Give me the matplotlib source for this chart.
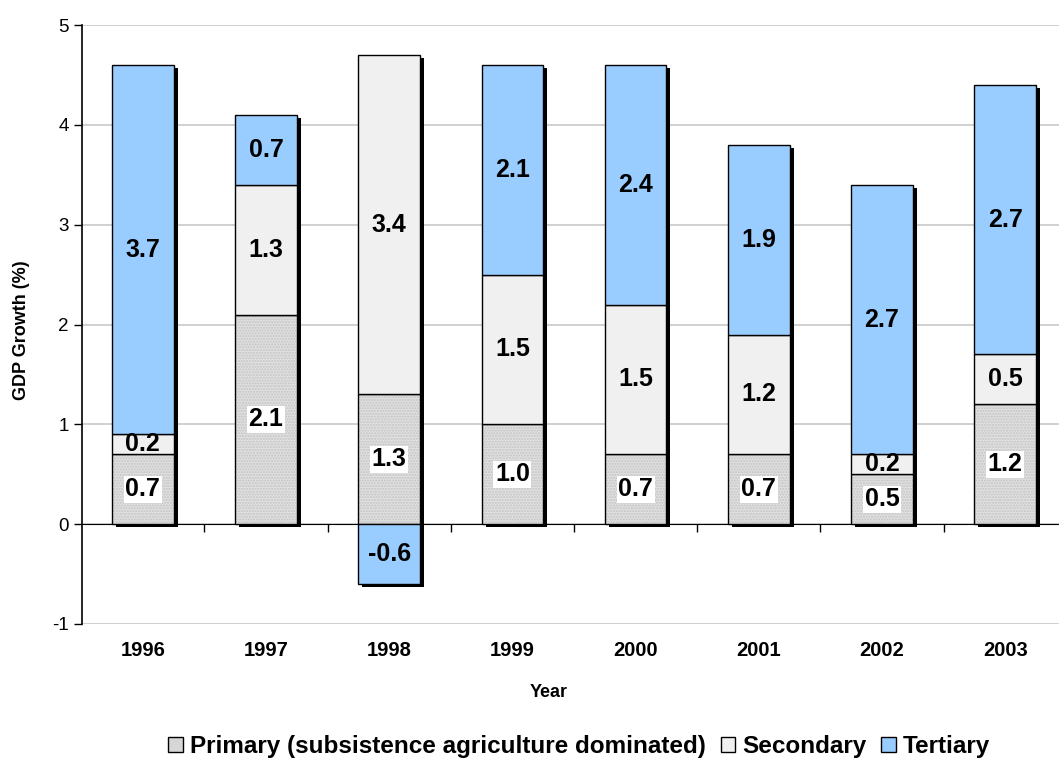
import numpy as np
import matplotlib.pyplot as plt
from matplotlib.patches import Patch
import matplotlib.transforms as mtransforms

plt.rcParams['font.family'] = ['Liberation Sans', 'DejaVu Sans']

years = ['1996', '1997', '1998', '1999', '2000', '2001', '2002', '2003']
primary = [0.7, 2.1, 1.3, 1.0, 0.7, 0.7, 0.5, 1.2]
secondary = [0.2, 1.3, 3.4, 1.5, 1.5, 1.2, 0.2, 0.5]
tertiary = [3.7, 0.7, -0.6, 2.1, 2.4, 1.9, 2.7, 2.7]

c_prim = '#e0e0e0'
c_sec = '#f0f0f0'
c_ter = '#99ccff'

fig = plt.figure(figsize=(10.59, 7.6), dpi=100)
ax = fig.add_axes([0.0774, 0.179, 0.93, 0.788])

x = np.arange(len(years))
w = 0.5
P = np.array(primary)
S = np.array(secondary)
T = np.array(tertiary)

# tertiary sits on top of the stack, or below zero when negative
t_bot = np.where(T >= 0, P + S, 0)
top = np.maximum(P + S, P + S + np.where(T > 0, T, 0))
low = np.minimum(0, np.where(T < 0, T, 0))

# shadow
shadow = mtransforms.offset_copy(ax.transData, fig=fig, x=4, y=-3, units='dots')
ax.bar(x, top - low, w, bottom=low, color='black', transform=shadow, zorder=2)

ax.bar(x, P, w, color=c_prim, edgecolor='#c4c4c4', hatch='......', linewidth=0, zorder=3)
ax.bar(x, P, w, fill=False, edgecolor='black', linewidth=1, zorder=4)
ax.bar(x, S, w, bottom=P, color=c_sec, edgecolor='black', linewidth=1, zorder=4)
ax.bar(x, T, w, bottom=t_bot, color=c_ter, edgecolor='black', linewidth=1, zorder=4)

lab = dict(ha='center', va='center', fontsize=18, fontweight='bold', zorder=6)
for i in range(len(years)):
    ax.text(x[i], P[i] / 2, f'{P[i]:.1f}',
            bbox=dict(facecolor='white', edgecolor='none', pad=1), **lab)
    ax.text(x[i], P[i] + S[i] / 2, f'{S[i]:.1f}', **lab)
    ax.text(x[i], t_bot[i] + T[i] / 2, f'{T[i]:.1f}', **lab)

ax.set_ylim(-1, 5)
ax.set_xlim(-0.494, 7.5)
ax.set_yticks([-1, 0, 1, 2, 3, 4, 5])
ax.set_yticklabels(['-1', '0', '1', '2', '3', '4', '5'], fontsize=13.5)
ax.yaxis.grid(True, color='#c8c8c8', linewidth=1.2, zorder=0)
ax.set_axisbelow(True)
ax.tick_params(axis='y', length=6, width=1, direction='out')

for s in ['top', 'right']:
    ax.spines[s].set_visible(False)
ax.spines['bottom'].set_position(('data', 0))
ax.spines['left'].set_linewidth(1.2)

ax.set_xticks(np.arange(0.5, 8, 1))
ax.set_xticklabels([])
ax.tick_params(axis='x', length=6, width=1, direction='out')

trans = mtransforms.blended_transform_factory(ax.transData, ax.transAxes)
for i, yr in enumerate(years):
    ax.text(x[i], -0.045, yr, transform=trans, ha='center', va='center',
            fontsize=14.5, fontweight='bold')

fig.text(0.5185, 0.089, 'Year', ha='center', va='center', fontsize=13, fontweight='bold')
fig.text(0.02, 0.565, 'GDP Growth (%)', ha='center', va='center', rotation=90,
         fontsize=13, fontweight='bold')

handles = [Patch(facecolor='#d6d6d6', edgecolor='black'),
           Patch(facecolor=c_sec, edgecolor='black'),
           Patch(facecolor=c_ter, edgecolor='black')]
names = ['Primary (subsistence agriculture dominated)', 'Secondary', 'Tertiary']
fig.legend(handles, names, loc='center', bbox_to_anchor=(0.547, 0.018), ncol=3,
           frameon=False, handlelength=0.6, handleheight=0.6, handletextpad=0.3,
           columnspacing=0.6, prop=dict(size=17.5, weight='bold'))

fig.savefig('out.png', dpi=100)
